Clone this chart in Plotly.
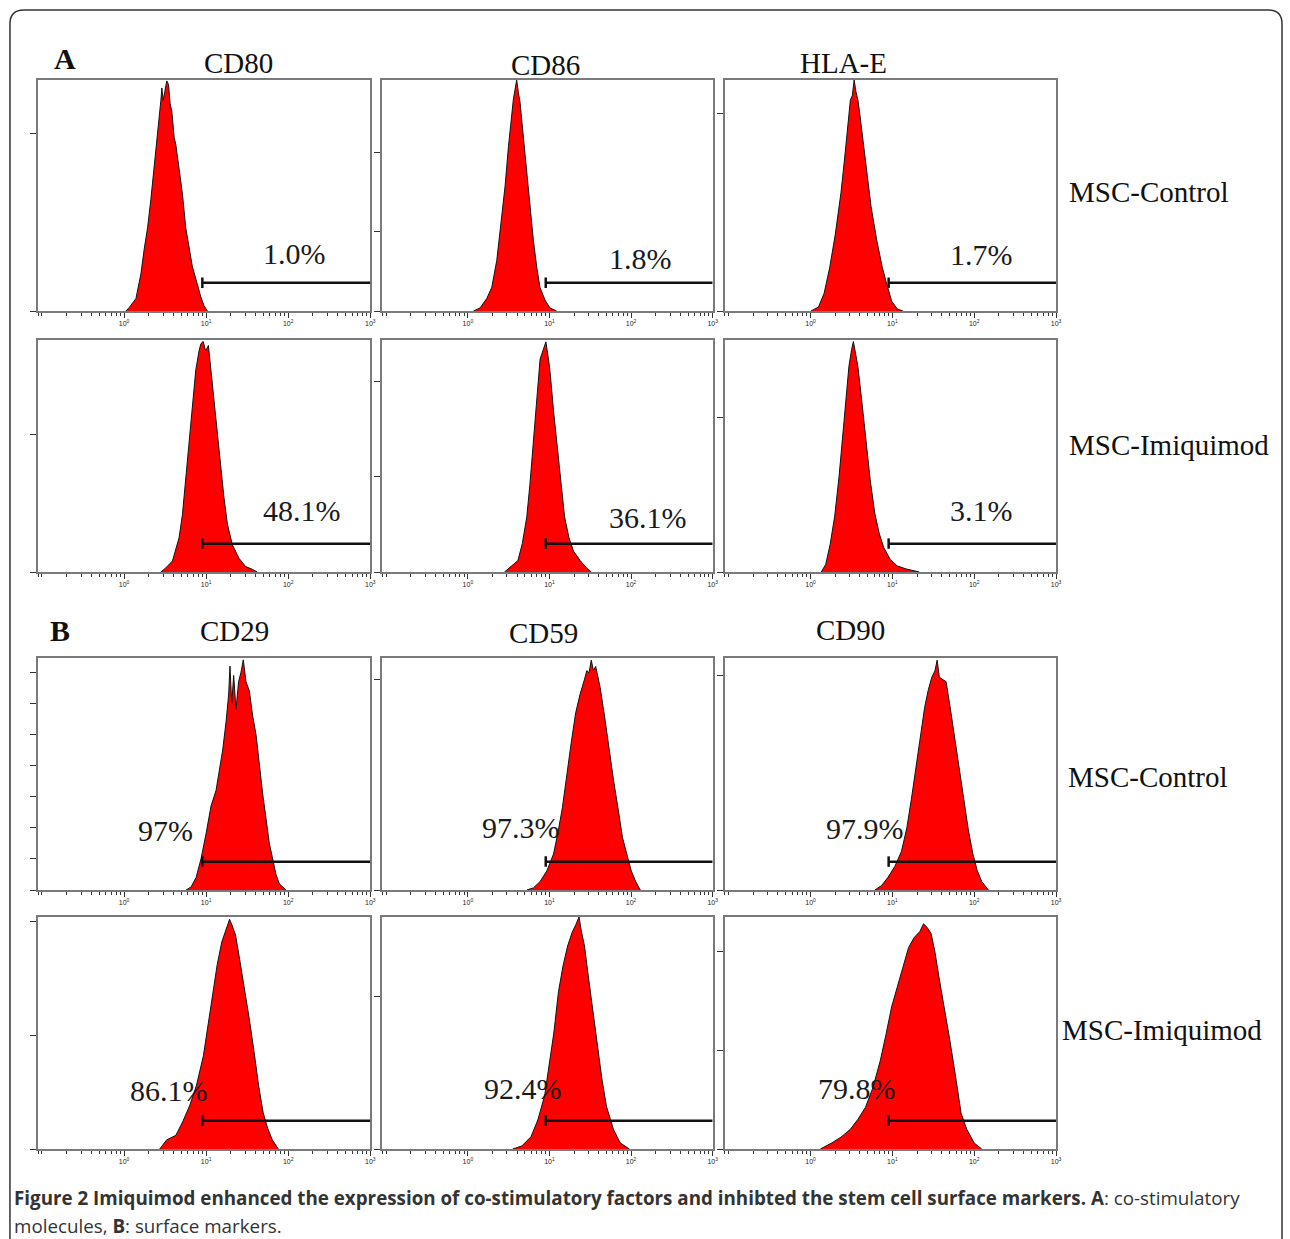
import plotly.graph_objects as go

# ---------------- data (log10 fluorescence, counts) ----------------
markers_top = ["CD80", "CD86", "HLA-E"]
markers_bottom = ["CD29", "CD59", "CD90"]
row_labels = ["MSC-Control", "MSC-Imiquimod", "MSC-Control", "MSC-Imiquimod"]

cd80_ctrl_logx = [0.023, 0.064, 0.145, 0.206, 0.246, 0.287, 0.327, 0.368, 0.408, 0.428, 0.449, 0.461, 0.477, 0.497, 0.521, 0.542, 0.562, 0.582, 0.611, 0.631, 0.671, 0.712, 0.752, 0.793, 0.833, 0.894, 0.935, 0.975, 1.016]
cd80_ctrl_cnt = [0, 2, 7, 21, 35, 47, 63, 81, 100, 106, 119, 126, 119, 124, 130, 128, 117, 113, 98, 94, 81, 66, 47, 36, 25, 15, 8, 3, 0]

cd86_ctrl_logx = [0.069, 0.151, 0.232, 0.293, 0.354, 0.415, 0.456, 0.497, 0.537, 0.558, 0.578, 0.598, 0.619, 0.639, 0.680, 0.720, 0.761, 0.802, 0.843, 0.883, 0.944, 1.005, 1.087]
cd86_ctrl_cnt = [0, 2, 8, 15, 32, 58, 79, 104, 127, 134, 140, 146, 138, 132, 110, 89, 66, 45, 28, 15, 7, 2, 0]

hlae_ctrl_logx = [0.005, 0.097, 0.166, 0.234, 0.303, 0.372, 0.418, 0.464, 0.487, 0.510, 0.533, 0.555, 0.578, 0.601, 0.647, 0.693, 0.739, 0.808, 0.877, 0.922, 0.991, 1.060, 1.129]
hlae_ctrl_cnt = [0, 2, 9, 22, 39, 60, 78, 97, 107, 109, 117, 111, 107, 100, 85, 68, 53, 36, 22, 15, 5, 1, 0]

cd80_imq_logx = [0.449, 0.509, 0.590, 0.671, 0.712, 0.752, 0.793, 0.833, 0.874, 0.914, 0.935, 0.963, 0.995, 1.028, 1.056, 1.097, 1.137, 1.178, 1.218, 1.259, 1.319, 1.400, 1.481, 1.562, 1.623]
cd80_imq_cnt = [0, 3, 8, 25, 42, 67, 96, 120, 147, 161, 166, 168, 161, 165, 149, 127, 103, 76, 54, 35, 20, 10, 4, 2, 0]

cd86_imq_logx = [0.449, 0.531, 0.613, 0.667, 0.722, 0.760, 0.803, 0.847, 0.885, 0.923, 0.956, 0.994, 1.010, 1.049, 1.087, 1.130, 1.185, 1.239, 1.294, 1.376, 1.457, 1.512]
cd86_imq_cnt = [0, 3, 6, 15, 29, 46, 71, 92, 112, 117, 121, 110, 104, 85, 69, 52, 29, 18, 11, 6, 2, 0]

hlae_imq_logx = [0.131, 0.186, 0.240, 0.295, 0.349, 0.393, 0.431, 0.469, 0.502, 0.523, 0.551, 0.578, 0.621, 0.676, 0.730, 0.785, 0.839, 0.893, 0.975, 1.057, 1.166, 1.329]
hlae_imq_cnt = [0, 5, 18, 36, 62, 87, 113, 133, 144, 149, 141, 133, 113, 85, 59, 38, 25, 16, 8, 4, 2, 0]

cd29_ctrl_logx = [0.756, 0.817, 0.878, 0.938, 0.999, 1.060, 1.121, 1.162, 1.202, 1.243, 1.275, 1.291, 1.312, 1.336, 1.364, 1.396, 1.425, 1.453, 1.486, 1.527, 1.567, 1.608, 1.649, 1.689, 1.730, 1.770, 1.811, 1.851, 1.892, 1.933, 1.973]
cd29_ctrl_cnt = [0, 1, 4, 10, 18, 27, 32, 38, 45, 54, 63, 72, 60, 69, 58, 67, 70, 74, 67, 64, 56, 50, 40, 31, 23, 15, 10, 5, 2, 1, 0]

cd59_ctrl_logx = [0.722, 0.803, 0.885, 0.967, 1.049, 1.103, 1.158, 1.212, 1.267, 1.321, 1.376, 1.430, 1.457, 1.485, 1.512, 1.539, 1.566, 1.594, 1.621, 1.676, 1.730, 1.785, 1.839, 1.894, 1.948, 2.003, 2.057, 2.112]
cd59_ctrl_cnt = [0, 1, 4, 9, 17, 27, 39, 55, 70, 84, 93, 100, 104, 103, 109, 104, 106, 101, 96, 82, 66, 52, 39, 25, 17, 9, 4, 0]

cd90_ctrl_logx = [0.785, 0.866, 0.948, 1.030, 1.111, 1.177, 1.231, 1.285, 1.340, 1.394, 1.438, 1.481, 1.520, 1.547, 1.574, 1.612, 1.656, 1.710, 1.765, 1.819, 1.874, 1.928, 1.982, 2.037, 2.091, 2.173]
cd90_ctrl_cnt = [0, 2, 6, 11, 18, 29, 42, 57, 71, 85, 93, 99, 102, 107, 99, 98, 97, 84, 70, 55, 41, 28, 17, 9, 4, 0]

cd29_imq_logx = [0.435, 0.519, 0.631, 0.715, 0.799, 0.883, 0.967, 1.023, 1.079, 1.135, 1.191, 1.247, 1.286, 1.320, 1.359, 1.415, 1.471, 1.527, 1.583, 1.639, 1.695, 1.751, 1.807, 1.880]
cd29_imq_cnt = [0, 4, 6, 12, 19, 28, 41, 54, 66, 81, 91, 97, 101, 98, 94, 82, 70, 57, 43, 28, 16, 9, 4, 0]

cd59_imq_logx = [0.549, 0.661, 0.773, 0.857, 0.941, 0.997, 1.053, 1.110, 1.166, 1.222, 1.278, 1.323, 1.362, 1.390, 1.429, 1.474, 1.530, 1.586, 1.642, 1.698, 1.783, 1.867, 1.979]
cd59_imq_cnt = [0, 2, 8, 19, 35, 54, 76, 103, 120, 133, 142, 147, 152, 143, 133, 114, 92, 67, 46, 28, 13, 4, 0]

cd90_imq_logx = [0.120, 0.257, 0.372, 0.487, 0.578, 0.670, 0.762, 0.854, 0.922, 0.991, 1.060, 1.129, 1.198, 1.266, 1.335, 1.381, 1.427, 1.473, 1.519, 1.565, 1.633, 1.702, 1.771, 1.840, 1.909, 2.000, 2.092]
cd90_imq_cnt = [0, 3, 6, 10, 15, 21, 31, 45, 58, 72, 82, 92, 102, 107, 110, 114, 112, 109, 100, 88, 72, 55, 37, 18, 10, 3, 0]

percent_labels = ["1.0%", "1.8%", "1.7%", "48.1%", "36.1%", "3.1%",
                  "97%", "97.3%", "97.9%", "86.1%", "92.4%", "79.8%"]
y_max = [130.5, 146, 117, 169, 122, 150, 74.6, 110, 108, 102, 152, 117.4]
y_dtick = [100, 50, 100, 100, 50, 100, 10, 100, 100, 50, 100, 50]
gate_start = 9.0          # gate marker start (fluorescence units)
x_tick_vals = [1, 10, 100, 1000]
x_tick_text = ["10<sup>0</sup>", "10<sup>1</sup>", "10<sup>2</sup>", "10<sup>3</sup>"]

caption_line1 = ("<b>Figure 2 Imiquimod enhanced the expression of co-stimulatory factors and "
                 "inhibted the stem cell surface markers. A</b>: co-stimulatory")
caption_line2 = "molecules, <b>B</b>: surface markers."

# ---------------- layout geometry (pixels) ----------------
W, H = 1290, 1239
col_px = [(38, 372), (384, 716), (728, 1061)]
row_px = [(80, 311), (340, 572), (658, 890), (917, 1149)]
pct_pos = [(296, 253), (643, 259), (986, 254), (303, 510), (651, 518), (986, 510),
           (166, 830), (523, 827), (869, 828), (170, 1090), (525, 1088), (861, 1088)]


def fx(p):
    return p / W


def fy(p):
    return 1 - p / H


series = [
    (cd80_ctrl_logx, cd80_ctrl_cnt), (cd86_ctrl_logx, cd86_ctrl_cnt), (hlae_ctrl_logx, hlae_ctrl_cnt),
    (cd80_imq_logx, cd80_imq_cnt), (cd86_imq_logx, cd86_imq_cnt), (hlae_imq_logx, hlae_imq_cnt),
    (cd29_ctrl_logx, cd29_ctrl_cnt), (cd59_ctrl_logx, cd59_ctrl_cnt), (cd90_ctrl_logx, cd90_ctrl_cnt),
    (cd29_imq_logx, cd29_imq_cnt), (cd59_imq_logx, cd59_imq_cnt), (cd90_imq_logx, cd90_imq_cnt),
]

fig = go.Figure()
layout = dict(width=W, height=H, margin=dict(l=0, r=0, t=0, b=0),
              paper_bgcolor="white", plot_bgcolor="white", showlegend=False)
shapes = []
annotations = []

serif = "Liberation Serif, Times New Roman, serif"

for i, (lx, cnt) in enumerate(series):
    r, c = divmod(i, 3)
    n = "" if i == 0 else str(i + 1)
    xa, ya = "x" + n, "y" + n
    fig.add_trace(go.Scatter(
        x=[10 ** v for v in lx], y=cnt, xaxis=xa, yaxis=ya, mode="lines",
        fill="tozeroy", fillcolor="#ff0000",
        line=dict(color="#111111", width=1), hoverinfo="skip"))
    layout["xaxis" + n] = dict(
        domain=[fx(col_px[c][0]), fx(col_px[c][1])], anchor=ya, type="log",
        range=[-1.05, 3.0], tickmode="array", tickvals=x_tick_vals, ticktext=x_tick_text,
        ticks="outside", ticklen=5, tickwidth=1, tickcolor="#333",
        tickfont=dict(size=7, color="#222", family="Arial, Liberation Sans"),
        minor=dict(dtick="D1", ticks="outside", ticklen=3, tickwidth=1, tickcolor="#333",
                   showgrid=False),
        showline=True, mirror=True, linecolor="#7a7a7a", linewidth=1.5,
        showgrid=False, zeroline=False, fixedrange=True)
    layout["yaxis" + n] = dict(
        domain=[fy(row_px[r][1]), fy(row_px[r][0])], anchor=xa,
        range=[0, y_max[i]], tick0=0, dtick=y_dtick[i],
        ticks="outside", ticklen=6, tickwidth=1, tickcolor="#333",
        showticklabels=False, showline=True, mirror=True, linecolor="#7a7a7a",
        linewidth=1.5, showgrid=False, zeroline=False, fixedrange=True)
    # gate marker
    shapes.append(dict(type="line", xref=xa, yref=ya + " domain",
                       x0=gate_start, x1=1000, y0=0.122, y1=0.122,
                       line=dict(color="#111", width=2.5)))
    shapes.append(dict(type="line", xref=xa, yref=ya + " domain",
                       x0=gate_start, x1=gate_start, y0=0.10, y1=0.145,
                       line=dict(color="#111", width=2.5)))
    px, py = pct_pos[i]
    annotations.append(dict(text=percent_labels[i], x=fx(px), y=fy(py), xref="paper", yref="paper",
                            showarrow=False, xanchor="center", yanchor="middle",
                            font=dict(family=serif, size=30, color="#1a1a1a")))

# headings
for txt, (px, py) in zip(markers_top, [(203, 45), (548, 47), (893, 45)]):
    annotations.append(dict(text=txt, x=fx(px), y=fy(py), xref="paper", yref="paper",
                            showarrow=False, font=dict(family=serif, size=29, color="#111")))
for txt, (px, py) in zip(markers_bottom, [(199, 631), (546, 633), (891, 630)]):
    annotations.append(dict(text=txt, x=fx(px), y=fy(py), xref="paper", yref="paper",
                            showarrow=False, font=dict(family=serif, size=29, color="#111")))
for txt, (px, py) in zip(["<b>A</b>", "<b>B</b>"], [(52, 40), (48, 630)]):
    annotations.append(dict(text=txt, x=fx(px), y=fy(py), xref="paper", yref="paper",
                            showarrow=False, font=dict(family=serif, size=30, color="#111")))
for txt, (px, py) in zip(row_labels, [(1072, 192), (1072, 445), (1071, 777), (1065, 1030)]):
    annotations.append(dict(text=txt, x=fx(px), y=fy(py), xref="paper", yref="paper",
                            showarrow=False, xanchor="left", yanchor="middle",
                            font=dict(family=serif, size=29, color="#111")))

# caption
for txt, py in [(caption_line1, 1198), (caption_line2, 1226)]:
    annotations.append(dict(text=txt, x=fx(12), y=fy(py), xref="paper", yref="paper",
                            showarrow=False, xanchor="left", yanchor="middle", align="left",
                            font=dict(family="Open Sans, Noto Sans, sans-serif", size=18.8,
                                      color="#333")))

# outer rounded frame
L, T, R, B, rad = 10, 10, 1288, 1245, 14
path = (f"M {fx(L)},{fy(B)} L {fx(L)},{fy(T + rad)} "
        f"Q {fx(L)},{fy(T)} {fx(L + rad)},{fy(T)} "
        f"L {fx(R - rad)},{fy(T)} Q {fx(R)},{fy(T)} {fx(R)},{fy(T + rad)} "
        f"L {fx(R)},{fy(B)}")
shapes.append(dict(type="path", xref="paper", yref="paper", path=path,
                   line=dict(color="#333", width=1.5)))

layout["shapes"] = shapes
layout["annotations"] = annotations
fig.update_layout(**layout)
fig.write_html("out.html", config={"displayModeBar": False},
               post_script="document.body.style.margin='0';document.body.style.overflow='hidden';")
